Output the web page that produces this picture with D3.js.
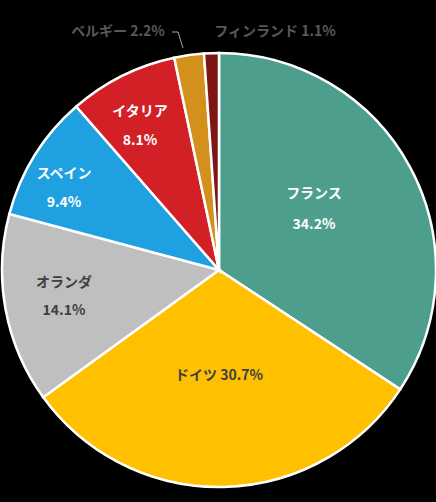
<!DOCTYPE html>
<html><head><meta charset="utf-8">
<script src="https://cdn.jsdelivr.net/npm/d3@7"></script>
<style>body{margin:0;background:#000}</style>
</head><body><div id="chart"></div>
<script>
// Data
const countries = ["フランス", "ドイツ", "オランダ", "スペイン", "イタリア", "ベルギー", "フィンランド"];
const shares = [34.2, 30.7, 14.1, 9.4, 8.1, 2.2, 1.1];
const colors = ["#4E9E8E", "#FFC000", "#BFBFBF", "#1FA0E0", "#D32027", "#D4901C", "#7F1616"];

const width = 436, height = 502;
const cx = 219, cy = 270, r = 217;

const svg = d3.select("#chart").append("svg")
    .attr("width", width).attr("height", height)
    .style("font-family", "'Noto Sans CJK JP', sans-serif")
    .style("font-weight", "bold");

svg.append("rect").attr("width", width).attr("height", height).attr("fill", "#000");

const data = countries.map((c, i) => ({ name: c, value: shares[i], color: colors[i] }));
const pie = d3.pie().value(d => d.value).sort(null);
const arcs = pie(data);
const arc = d3.arc().innerRadius(0).outerRadius(r);

const g = svg.append("g").attr("transform", `translate(${cx},${cy})`);
g.selectAll("path").data(arcs).join("path")
    .attr("d", arc).attr("fill", d => d.data.color)
    .attr("stroke", "#fff").attr("stroke-width", 2.5);

// Inside labels (two lines or one line)
const inside = [
    { i: 0, lines: ["フランス", "34.2%"], pos: [314, 198, 229], fill: "#fff" },
    { i: 1, lines: ["ドイツ 30.7%"], pos: [219, 380], fill: "#404040" },
    { i: 2, lines: ["オランダ", "14.1%"], pos: [64, 287, 315], fill: "#404040" },
    { i: 3, lines: ["スペイン", "9.4%"], pos: [64, 178, 207], fill: "#fff" },
    { i: 4, lines: ["イタリア", "8.1%"], pos: [140, 116, 145], fill: "#fff" }
];
inside.forEach(l => {
    l.lines.forEach((t, k) => {
        svg.append("text").attr("x", l.pos[0]).attr("y", l.pos[k + 1])
            .attr("text-anchor", "middle").attr("font-size", 14)
            .attr("fill", l.fill).text(t);
    });
});

// Outside labels
svg.append("text").attr("x", 118).attr("y", 36).attr("text-anchor", "middle")
    .attr("font-size", 14).attr("fill", "#595959").text(`${countries[5]} ${shares[5]}%`);
svg.append("polyline").attr("points", "172,32 178,32 183,48")
    .attr("fill", "none").attr("stroke", "#A6A6A6").attr("stroke-width", 1);
svg.append("text").attr("x", 275).attr("y", 36).attr("text-anchor", "middle")
    .attr("font-size", 14).attr("fill", "#595959").text(`${countries[6]}  ${shares[6]}%`);
</script>
</body></html>
